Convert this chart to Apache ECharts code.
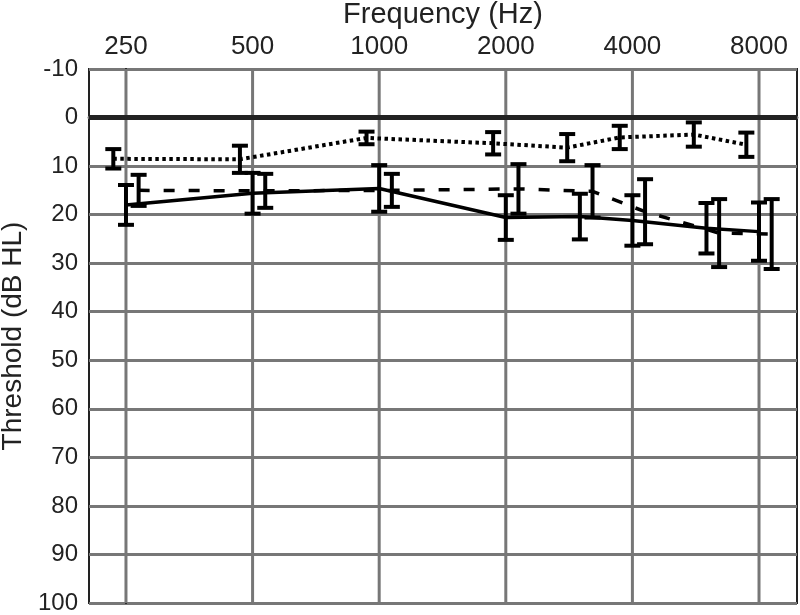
<!DOCTYPE html>
<html>
<head>
<meta charset="utf-8">
<script src="https://cdn.jsdelivr.net/npm/echarts@6/dist/echarts.min.js"></script>
<style>
  html, body { margin: 0; padding: 0; background: #fff; }
  #chart { width: 800px; height: 615px; }
</style>
</head>
<body>
<div id="chart"></div>
<script>
// frequencies (Hz) of the measured points
const frequencies = [250, 500, 1000, 2000, 3000, 4000, 6000, 8000]
const tickFrequencies = [250, 500, 1000, 2000, 4000, 8000]

// thresholds (dB HL), mean and error half-width per series
const solidMean = [18, 15.6, 14.6, 20.6, 20.4, 21.2, 22.8, 23.5]
const solidErr = [4.1, 4.2, 4.8, 4.6, 4.7, 5.2, 5.2, 6.0]
const dashedMean = [15, 15.1, 15, 14.7, 15.2, 19.4, 23.8, 24]
const dashedErr = [3.2, 3.5, 3.4, 5.1, 5.4, 6.7, 7.0, 7.2]
const dottedMean = [8.5, 8.6, 4.2, 5.3, 6.2, 4.1, 3.5, 5.6]
const dottedErr = [2.0, 2.8, 1.3, 2.3, 2.8, 2.4, 2.5, 2.5]

// x is plotted in octaves above 250 Hz
const oct = f => Math.log2(f / 250)
const xOffset = { solid: 0, dashed: 0.1, dotted: -0.1 }

const font = 'Liberation Sans, Arial, sans-serif'
const gridGray = '#777'

const lineData = (means, off) => frequencies.map((f, i) => [oct(f) + off, means[i]])
const errData = (means, errs, off) => frequencies.map((f, i) => [oct(f) + off, means[i] - errs[i], means[i] + errs[i]])

const renderErrorBar = (params, api) => {
  const x = api.value(0)
  const top = api.coord([x, api.value(1)])
  const bot = api.coord([x, api.value(2)])
  const w = 8
  const style = { stroke: '#000', lineWidth: 4 }
  return {
    type: 'group',
    children: [
      { type: 'line', shape: { x1: top[0], y1: top[1], x2: bot[0], y2: bot[1] }, style },
      { type: 'line', shape: { x1: top[0] - w, y1: top[1], x2: top[0] + w, y2: top[1] }, style },
      { type: 'line', shape: { x1: bot[0] - w, y1: bot[1], x2: bot[0] + w, y2: bot[1] }, style }
    ]
  }
}

const chart = echarts.init(document.getElementById('chart'))

const option = {
  animation: false,
  grid: {
    left: 89,
    right: 3,
    top: 69,
    bottom: 12,
    outerBoundsMode: 'none',
    containLabel: false,
    show: true,
    borderColor: '#222',
    borderWidth: 2
  },
  xAxis: {
    type: 'value',
    position: 'top',
    min: -0.292,
    max: 5.30,
    name: 'Frequency (Hz)',
    nameLocation: 'middle',
    nameGap: 40,
    nameTextStyle: { fontFamily: font, fontSize: 29, color: '#222' },
    axisLine: { show: true, lineStyle: { color: gridGray, width: 3 } },
    axisTick: { show: false },
    splitLine: { show: false },
    axisLabel: {
      customValues: tickFrequencies.map(oct),
      formatter: v => String(Math.round(250 * Math.pow(2, v))),
      fontFamily: font,
      fontSize: 26,
      color: '#222',
      margin: 9
    }
  },
  yAxis: {
    type: 'value',
    inverse: true,
    min: -10,
    max: 100,
    interval: 10,
    name: 'Threshold (dB HL)',
    nameLocation: 'middle',
    nameGap: 59,
    nameTextStyle: { fontFamily: font, fontSize: 28, color: '#222' },
    axisLine: { show: true, lineStyle: { color: '#111', width: 2 } },
    axisTick: { show: false },
    splitLine: { show: true, lineStyle: { color: gridGray, width: 3 } },
    axisLabel: { fontFamily: font, fontSize: 24, color: '#222', margin: 11 }
  },
  series: [
    {
      // vertical grid lines at the octave frequencies
      type: 'custom',
      z: 1,
      silent: true,
      data: tickFrequencies.map(f => [oct(f)]),
      encode: { x: 0 },
      renderItem: (params, api) => {
        const a = api.coord([api.value(0), -10])
        const b = api.coord([api.value(0), 100])
        return { type: 'line', shape: { x1: a[0], y1: a[1], x2: b[0], y2: b[1] }, style: { stroke: gridGray, lineWidth: 3 } }
      }
    },
    {
      // 0 dB reference line
      type: 'custom',
      z: 2,
      silent: true,
      data: [[0]],
      encode: { y: 0 },
      renderItem: (params, api) => {
        const cs = params.coordSys
        const y = api.coord([0, api.value(0)])[1]
        return { type: 'line', shape: { x1: cs.x, y1: y, x2: cs.x + cs.width, y2: y }, style: { stroke: '#222', lineWidth: 5 } }
      }
    },
    {
      name: 'solid',
      type: 'line',
      z: 3,
      showSymbol: false,
      data: lineData(solidMean, xOffset.solid),
      lineStyle: { color: '#000', width: 3.5 }
    },
    {
      name: 'dashed',
      type: 'line',
      z: 3,
      showSymbol: false,
      data: lineData(dashedMean, xOffset.dashed),
      lineStyle: { color: '#000', width: 3.5, type: [11, 14] }
    },
    {
      name: 'dotted',
      type: 'line',
      z: 3,
      showSymbol: false,
      data: lineData(dottedMean, xOffset.dotted),
      lineStyle: { color: '#000', width: 4, type: [3.5, 3.5] }
    },
    {
      type: 'custom',
      z: 4,
      data: errData(solidMean, solidErr, xOffset.solid),
      encode: { x: 0, y: [1, 2] },
      renderItem: renderErrorBar
    },
    {
      type: 'custom',
      z: 4,
      data: errData(dashedMean, dashedErr, xOffset.dashed),
      encode: { x: 0, y: [1, 2] },
      renderItem: renderErrorBar
    },
    {
      type: 'custom',
      z: 4,
      data: errData(dottedMean, dottedErr, xOffset.dotted),
      encode: { x: 0, y: [1, 2] },
      renderItem: renderErrorBar
    }
  ]
}

chart.setOption(option)
</script>
</body>
</html>
